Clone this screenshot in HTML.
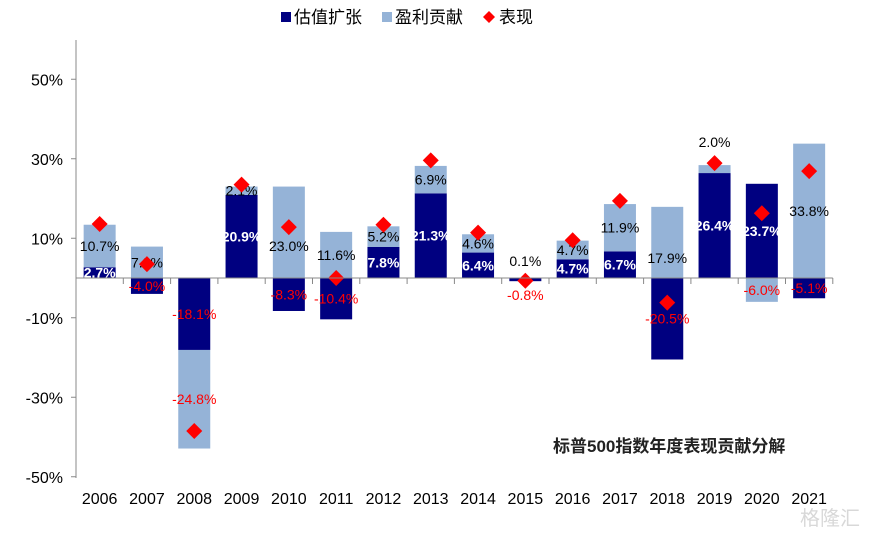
<!DOCTYPE html>
<html><head><meta charset="utf-8"><style>
body{margin:0;background:#fff;}
svg{display:block;font-family:"Liberation Sans","Noto Sans CJK SC",sans-serif;}
</style></head><body>
<svg width="876" height="533" viewBox="0 0 876 533" xmlns="http://www.w3.org/2000/svg">
<g font-size="17" font-family="Liberation Sans, Noto Sans CJK SC, sans-serif">
 <rect x="281" y="12" width="10" height="10" fill="#000080"/>
 <text x="294" y="23" fill="#000">估值扩张</text>
 <rect x="382" y="12" width="10" height="10" fill="#95b3d7"/>
 <text x="395" y="23" fill="#000">盈利贡献</text>
 <path d="M489 11 L495 17 L489 23 L483 17 Z" fill="#ff0000"/>
 <text x="499" y="23" fill="#000">表现</text>
</g>
<g id="plot"></g>
<text x="553" y="452" font-size="17" font-weight="bold" fill="#222">标普500指数年度表现贡献分解</text>
<text x="800" y="525" font-size="20" fill="#d8d8d8">格隆汇</text>
</svg>
<script>
const categories=['2006','2007','2008','2009','2010','2011','2012','2013','2014','2015','2016','2017','2018','2019','2020','2021'];
const valuation=[2.7,-4.0,-18.1,20.9,-8.3,-10.4,7.8,21.3,6.4,-0.8,4.7,6.7,-20.5,26.4,23.7,-5.1];
const earnings=[10.7,7.9,-24.8,2.1,23.0,11.6,5.2,6.9,4.6,0.1,4.7,11.9,17.9,2.0,-6.0,33.8];
const performance=[13.6,3.5,-38.5,23.5,12.8,0,13.4,29.6,11.4,-0.7,9.5,19.4,-6.2,28.9,16.3,26.9];
const yTicks=[50,30,10,-10,-30,-50];
const yTickLabels=['50%','30%','10%','-10%','-30%','-50%'];
const NS='http://www.w3.org/2000/svg';
const g=document.getElementById('plot');
const x0=76,band=47.3,barW=32;
function y(v){return 278-v*3.975;}
function xc(i){return x0+band*(i+0.5);}
function mk(t,a,p){const e=document.createElementNS(NS,t);for(const k in a)e.setAttribute(k,a[k]);(p||g).appendChild(e);return e;}
let ax=mk('line',{x1:x0,y1:40,x2:x0,y2:478,stroke:'#888','stroke-width':1});


yTicks.forEach((t,i)=>{
 const tk=mk('line',{x1:x0-5,y1:y(t),x2:x0,y2:y(t),stroke:'#888'});
 
 
 const tl=mk('text',{x:x0-13,y:y(t)+6,'text-anchor':'end','font-size':16,fill:'#000'});
 
 
 tl.textContent=yTickLabels[i];
});
function fmt(v){return v.toFixed(1)+'%';}
categories.forEach((c,i)=>{
 const cx=xc(i),v=valuation[i],e=earnings[i];
 let pos=0,neg=0;
 const segs=[];
 [[v,'#000080','valuation'],[e,'#95b3d7','earnings']].forEach(([val,col,nm])=>{
  let a,b;
  if(val>=0){a=pos;b=pos+val;pos=b;}else{a=neg;b=neg+val;neg=b;}
  const r=mk('rect',{x:cx-barW/2,y:Math.min(y(a),y(b)),width:barW,height:Math.abs(y(a)-y(b)),fill:col});
  
  
  segs.push([val,a,b,nm]);
 });
 segs.forEach(([val,a,b,nm])=>{
  let ly=(y(a)+y(b))/2+5;
  if(c==='2019'&&nm==='earnings')ly=y(b)-18;
  if(c==='2015')ly=nm==='earnings'?y(0)-12:y(0)+22;
  if(c==='2010'&&nm==='earnings')ly=251;
  if(c==='2018'&&nm==='earnings')ly=263;
  const dark=nm==='valuation';
  let fill=val<0?'#ff0000':(dark?'#fff':'#000');
  const t=mk('text',{x:cx,y:ly,'text-anchor':'middle','font-size':14,fill:fill,'font-weight':(dark&&val>=0)?'bold':'normal'});
  
  
  t.textContent=fmt(val);
 });
 const py=y(performance[i]);
 const d=mk('path',{d:`M${cx} ${py-8} L${cx+8} ${py} L${cx} ${py+8} L${cx-8} ${py} Z`,fill:'#ff0000'});
 
 
 const cl=mk('text',{x:cx,y:504,'text-anchor':'middle','font-size':16,fill:'#000'});
 
 
 cl.textContent=c;
 const tk=mk('line',{x1:x0+band*(i+1),y1:278,x2:x0+band*(i+1),y2:284,stroke:'#888'});
 
 
});
const zl=mk('line',{x1:x0,y1:278,x2:x0+band*16,y2:278,stroke:'#888'});


</script>
</body></html>
